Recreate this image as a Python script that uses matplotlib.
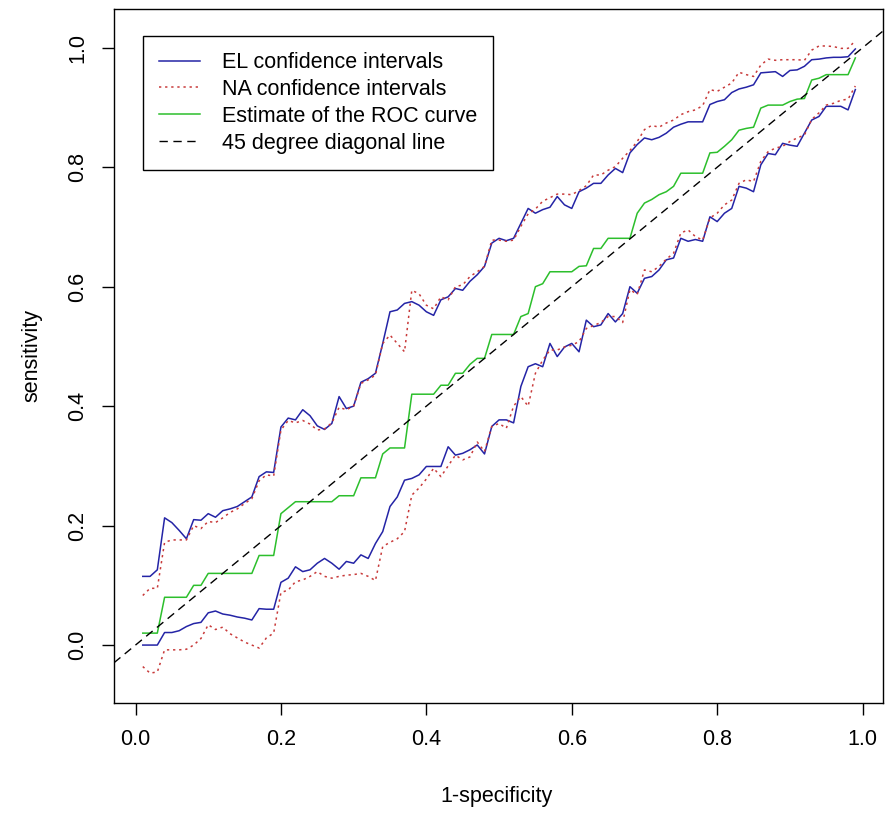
import numpy as np
import matplotlib
matplotlib.use("Agg")
import matplotlib.pyplot as plt

plt.rcParams['font.family'] = ['Liberation Sans', 'DejaVu Sans']
plt.rcParams['font.size'] = 15.5

# 1-specificity grid
fpr = np.linspace(0.01, 0.99, 99)

# empirical likelihood bands
el_upper = [0.115, 0.115, 0.126, 0.213, 0.205, 0.192, 0.178, 0.210, 0.209, 0.220,
            0.214, 0.225, 0.228, 0.232, 0.240, 0.248, 0.282, 0.290, 0.289, 0.365,
            0.380, 0.377, 0.394, 0.384, 0.367, 0.361, 0.371, 0.416, 0.396, 0.400,
            0.440, 0.446, 0.455, 0.505, 0.558, 0.561, 0.572, 0.575, 0.569, 0.558,
            0.552, 0.578, 0.583, 0.597, 0.594, 0.609, 0.620, 0.634, 0.673, 0.681,
            0.677, 0.681, 0.706, 0.731, 0.723, 0.729, 0.733, 0.751, 0.737, 0.731,
            0.759, 0.765, 0.773, 0.773, 0.787, 0.798, 0.791, 0.824, 0.838, 0.849,
            0.846, 0.850, 0.857, 0.867, 0.872, 0.876, 0.876, 0.876, 0.905, 0.910,
            0.913, 0.925, 0.931, 0.934, 0.938, 0.958, 0.959, 0.960, 0.952, 0.962,
            0.963, 0.969, 0.980, 0.981, 0.983, 0.984, 0.984, 0.985, 0.998]
el_lower = [0.000, 0.000, 0.000, 0.021, 0.021, 0.024, 0.031, 0.036, 0.038, 0.054,
            0.057, 0.052, 0.050, 0.047, 0.045, 0.042, 0.061, 0.060, 0.060, 0.105,
            0.112, 0.131, 0.123, 0.126, 0.137, 0.145, 0.137, 0.127, 0.140, 0.137,
            0.151, 0.145, 0.170, 0.190, 0.232, 0.248, 0.276, 0.279, 0.285, 0.299,
            0.299, 0.299, 0.332, 0.318, 0.321, 0.327, 0.335, 0.320, 0.366, 0.377,
            0.377, 0.372, 0.433, 0.466, 0.471, 0.466, 0.505, 0.483, 0.499, 0.505,
            0.491, 0.544, 0.533, 0.536, 0.555, 0.541, 0.555, 0.600, 0.589, 0.614,
            0.617, 0.628, 0.645, 0.648, 0.681, 0.676, 0.679, 0.676, 0.717, 0.709,
            0.723, 0.731, 0.768, 0.765, 0.759, 0.804, 0.823, 0.821, 0.840, 0.837,
            0.835, 0.857, 0.879, 0.885, 0.902, 0.902, 0.902, 0.896, 0.930]

# normal approximation bands
na_upper = [0.083, 0.095, 0.095, 0.172, 0.176, 0.176, 0.176, 0.200, 0.195, 0.207,
            0.205, 0.213, 0.222, 0.228, 0.237, 0.245, 0.275, 0.285, 0.283, 0.360,
            0.376, 0.372, 0.376, 0.370, 0.360, 0.362, 0.372, 0.398, 0.394, 0.400,
            0.438, 0.444, 0.452, 0.505, 0.519, 0.505, 0.491, 0.594, 0.588, 0.569,
            0.563, 0.583, 0.578, 0.600, 0.603, 0.617, 0.625, 0.634, 0.678, 0.678,
            0.676, 0.678, 0.701, 0.722, 0.730, 0.743, 0.749, 0.755, 0.755, 0.754,
            0.761, 0.769, 0.787, 0.787, 0.795, 0.801, 0.815, 0.828, 0.843, 0.863,
            0.870, 0.867, 0.874, 0.879, 0.888, 0.893, 0.896, 0.903, 0.930, 0.927,
            0.934, 0.941, 0.959, 0.955, 0.952, 0.971, 0.981, 0.979, 0.980, 0.980,
            0.980, 0.979, 0.996, 1.003, 1.003, 1.002, 0.999, 0.999, 1.012]
na_lower = [-0.036, -0.047, -0.045, -0.008, -0.008, -0.008, -0.007, 0.000, 0.011, 0.034,
            0.026, 0.030, 0.019, 0.012, 0.005, 0.000, -0.005, 0.012, 0.020, 0.088,
            0.092, 0.106, 0.109, 0.115, 0.123, 0.115, 0.112, 0.115, 0.117, 0.118,
            0.120, 0.115, 0.108, 0.165, 0.172, 0.178, 0.190, 0.251, 0.263, 0.278,
            0.296, 0.282, 0.300, 0.318, 0.310, 0.315, 0.340, 0.324, 0.366, 0.371,
            0.363, 0.400, 0.416, 0.400, 0.455, 0.477, 0.494, 0.494, 0.499, 0.502,
            0.508, 0.530, 0.535, 0.540, 0.550, 0.550, 0.540, 0.595, 0.587, 0.628,
            0.625, 0.634, 0.646, 0.656, 0.690, 0.695, 0.684, 0.678, 0.715, 0.723,
            0.737, 0.745, 0.773, 0.779, 0.776, 0.810, 0.826, 0.832, 0.835, 0.843,
            0.849, 0.854, 0.880, 0.891, 0.904, 0.907, 0.912, 0.914, 0.936]

# estimated ROC curve
roc_est = [0.020, 0.020, 0.020, 0.080, 0.080, 0.080, 0.080, 0.100, 0.100, 0.120,
           0.120, 0.120, 0.120, 0.120, 0.120, 0.120, 0.150, 0.150, 0.150, 0.220,
           0.230, 0.240, 0.240, 0.240, 0.240, 0.240, 0.240, 0.250, 0.250, 0.250,
           0.280, 0.280, 0.280, 0.320, 0.330, 0.330, 0.330, 0.420, 0.420, 0.420,
           0.420, 0.435, 0.435, 0.455, 0.455, 0.470, 0.480, 0.480, 0.520, 0.520,
           0.520, 0.520, 0.550, 0.555, 0.600, 0.605, 0.625, 0.625, 0.625, 0.625,
           0.634, 0.635, 0.664, 0.664, 0.681, 0.681, 0.681, 0.681, 0.723, 0.740,
           0.746, 0.754, 0.759, 0.768, 0.790, 0.790, 0.790, 0.790, 0.824, 0.825,
           0.835, 0.846, 0.862, 0.865, 0.867, 0.899, 0.904, 0.904, 0.904, 0.910,
           0.914, 0.915, 0.946, 0.949, 0.955, 0.955, 0.955, 0.955, 0.983]

blue = '#2424a6'
red = '#c83a3a'
green = '#2cbf2c'

fig = plt.figure(figsize=(8.85, 8.13), dpi=100)
ax = fig.add_axes([0.1288, 0.1353, 0.8689, 0.8537])

ax.plot(fpr, el_upper, color=blue, lw=1.1, label='EL confidence intervals')
ax.plot(fpr, el_lower, color=blue, lw=1.1)
ax.plot(fpr, na_upper, color=red, lw=1.1, dashes=(1.5, 2.5), label='NA confidence intervals')
ax.plot(fpr, na_lower, color=red, lw=1.1, dashes=(1.5, 2.5))
ax.plot(fpr, roc_est, color=green, lw=1.1, label='Estimate of the ROC curve')
ax.axline((0, 0), (1, 1), color='black', lw=1.0, dashes=(6, 4), label='45 degree diagonal line')

ax.set_xlim(-0.0296, 1.028)
ax.set_ylim(-0.097, 1.065)
ax.set_xticks([0.0, 0.2, 0.4, 0.6, 0.8, 1.0])
ax.set_yticks([0.0, 0.2, 0.4, 0.6, 0.8, 1.0])
ax.set_xticklabels(['0.0', '0.2', '0.4', '0.6', '0.8', '1.0'])
ax.set_yticklabels(['0.0', '0.2', '0.4', '0.6', '0.8', '1.0'], rotation=90, va='center')
ax.tick_params(direction='out', length=8.4, width=1, pad=10, labelsize=15.5)
for s in ax.spines.values():
    s.set_linewidth(1.0)

ax.set_xlabel('1-specificity', va='center')
ax.set_ylabel('sensitivity', va='center')
ax.xaxis.set_label_coords(0.498, -0.135)
ax.yaxis.set_label_coords(-0.107, 0.5)

leg = ax.legend(loc='upper left', bbox_to_anchor=(0.0377, 0.961), fontsize=15.5,
                handlelength=1.9, handletextpad=1.0, borderpad=0.75, labelspacing=0.27,
                fancybox=False, framealpha=1, borderaxespad=0)
leg.get_frame().set_edgecolor('black')
leg.get_frame().set_linewidth(1.0)

fig.savefig('out.png', dpi=100)
